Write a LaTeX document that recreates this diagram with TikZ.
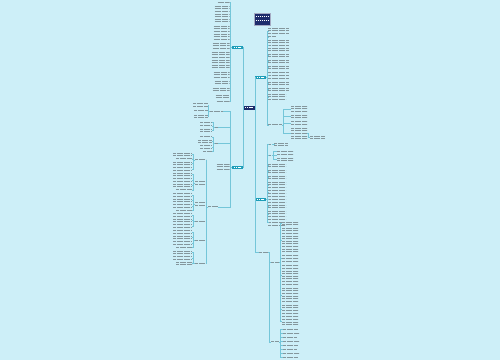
\documentclass[tikz,border=0pt]{standalone}
\usetikzlibrary{calc}
\definecolor{bg}{HTML}{CDEFF8}
\definecolor{lnk}{HTML}{74C6D9}
\definecolor{txtc}{HTML}{84969C}
\definecolor{tealn}{HTML}{1C9DB8}
\definecolor{navy}{HTML}{1D2C6C}
\tikzset{
 conn/.style={draw=lnk,line width=0.4pt},
 tblock/.style={inner sep=0pt,outer sep=0pt,
   path picture={\foreach \k in {0,...,13}{\draw[txtc,line width=0.65pt,dash pattern=on 1.4pt off 0.35pt]
     ($(path picture bounding box.north west)+(0.2pt,-1.2pt-\k*2.6pt)$) --
     ($(path picture bounding box.north east)+(0pt,-1.2pt-\k*2.6pt)$);}}},
 tealbox/.style={fill=tealn,inner sep=0pt,outer sep=0pt,minimum width=11pt,minimum height=3.6pt,
   path picture={\draw[white,line width=0.7pt,dash pattern=on 1.4pt off 0.35pt]
     ($(path picture bounding box.west)+(2pt,0pt)$) -- ($(path picture bounding box.east)+(-2pt,0pt)$);}},
 rootbox/.style={fill=navy,inner sep=0pt,outer sep=0pt,minimum width=12pt,minimum height=4pt,
   path picture={\draw[white,line width=0.8pt,dash pattern=on 1.4pt off 0.35pt]
     ($(path picture bounding box.west)+(2pt,0pt)$) -- ($(path picture bounding box.east)+(-2pt,0pt)$);}},
 titlebox/.style={fill=navy,draw=white!60!navy,line width=0.3pt,inner sep=0pt,minimum width=16pt,minimum height=12pt,
   path picture={\foreach \k in {0,1}{\draw[white,line width=1pt,dash pattern=on 1.6pt off 0.4pt]
     ($(path picture bounding box.north west)+(1.5pt,-3.5pt-\k*4pt)$) -- ($(path picture bounding box.north east)+(-1.5pt,-3.5pt-\k*4pt)$);}}}
}
\newcommand\TL[5]{\node[tblock,anchor=north east,minimum width=#4pt,minimum height={#5*2.6pt}] (#1) at (#2,#3) {};}
\newcommand\TR[5]{\node[tblock,anchor=north west,minimum width=#4pt,minimum height={#5*2.6pt}] (#1) at (#2,#3) {};}
\newcommand\LK[2]{\draw[conn] (#1.west) -- ++(-1.5,0) |- (#2.east);}
\newcommand\RK[2]{\draw[conn] (#1.east) -- ++(1.5,0) |- (#2.west);}
\begin{document}
\begin{tikzpicture}[x=1pt,y=-1pt]
\path[use as bounding box] (0,0) rectangle (500,360);
\fill[bg] (0,0) rectangle (500,360);

% central nodes
\node[rootbox] (root) at (249,107.5) {};
\node[titlebox] (title) at (262,19) {};
\node[tealbox] (L1) at (237.5,47.5) {};
\node[tealbox] (L2) at (237.5,167.5) {};
\node[tealbox] (R1) at (260.5,77.5) {};
\node[tealbox] (R2) at (260.5,199.5) {};
\TR{R3}{259}{251}{9}{1}

\draw[conn] (root.west) -- ++(-0.3,0) |- (L1.east);
\draw[conn] (root.west) -- ++(-0.3,0) |- (L2.east);
\draw[conn] (root.east) -- ++(0.5,0) |- (R1.west);
\draw[conn] (root.east) -- ++(0.5,0) |- (R2.west);
\draw[conn] (root.east) -- ++(0.5,0) |- (R3.west);

% L1 children
\foreach \n/\y/\w/\k in {a1/1/12/1, a2/5/15/7, a3/25/16/6, a4/42/17/3, a5/51/18/7, a6/71/16/3, a7/80/15/2, a8/87/17/2, a9/94/14/2, a10/100/13/1}
 {\TL{\n}{229.5}{\y}{\w}{\k} \LK{L1}{\n}}

% R1 children
\foreach \n/\y/\w/\k in {b1/27/21/3, b2/35.5/8/1, b3/39/21/5, b4/53/21/2, b5/59/21/2, b6/65/21/2, b7/71.5/21/3, b8/81/21/2, b9/87/21/2, b10/93/18/3}
 {\TR{\n}{268}{\y}{\w}{\k} \RK{R1}{\n}}
\TR{b11}{268}{123.5}{14}{1} \RK{R1}{b11}
\foreach \n/\y/\w/\k in {g1/105/16/3, g2/114/16/2, g3/120.5/16/2, g4/127/16/5}
 {\TR{\n}{291}{\y}{\w}{\k} \RK{b11}{\n}}
\TR{h1}{310}{135}{15}{2} \RK{g4}{h1}

% R2 children
\TR{c1}{268}{143}{4}{1} \RK{R2}{c1}
\TR{c1a}{274}{142}{14}{2} \RK{c1}{c1a}
\TR{c2}{268}{154}{4}{1} \RK{R2}{c2}
\foreach \n/\y/\w/\k in {c2a/150/16/1, c2b/153.5/16/1, c2c/157/16/2}
 {\TR{\n}{277}{\y}{\w}{\k} \RK{c2}{\n}}
\foreach \n/\y/\w/\k in {c3/163/18/2, c4/169/18/2, c5/175/18/2, c6/181/18/3, c7/189.5/18/2, c8/195.5/18/3, c9/204/18/2, c10/210/18/3, c11/218.5/18/3}
 {\TR{\n}{268}{\y}{\w}{\k} \RK{R2}{\n}}

% R3 children
\TR{e1}{271}{261}{8}{1} \RK{R3}{e1}
\foreach \n/\y/\w/\k in {e1a/221/16/2, e1b/227/16/10, e1c/254.5/16/3, e1d/264.5/16/8, e1e/287/16/6, e1f/304/16/4, e1g/315.5/16/4}
 {\TR{\n}{282}{\y}{\w}{\k} \RK{e1}{\n}}
\TR{e2}{271}{340.5}{8}{1} \RK{R3}{e2}
\foreach \n/\y/\w in {e2a/328/15, e2b/332/16, e2c/336/14, e2d/340/16, e2e/344/15, e2f/348/14, e2g/352/16, e2h/356/15}
 {\TR{\n}{283}{\y}{\w}{1} \RK{e2}{\n}}

% L2 children
\TL{C1}{223}{110}{13}{1} \LK{L2}{C1}
\foreach \n/\y/\w/\k in {C1a/102.5/15/2, C1b/109.5/14/1, C1c/114/14/2}
 {\TL{\n}{208}{\y}{\w}{\k} \LK{C1}{\n}}
\TL{C2}{218}{126}{3}{1} \LK{L2}{C2}
\foreach \n/\y/\w/\k in {C2a/121/12/1, C2b/124.5/12/1, C2c/128/12/2}
 {\TL{\n}{212}{\y}{\w}{\k} \LK{C2}{\n}}
\TL{C3}{218}{142}{3}{1} \LK{L2}{C3}
\foreach \n/\y/\w/\k in {C3a/135.5/12/1, C3b/139/14/2, C3c/144.5/12/2, C3d/150/9/1}
 {\TL{\n}{212}{\y}{\w}{\k} \LK{C3}{\n}}
\TL{f0}{229.5}{163}{13}{3} \LK{L2}{f0}
\TL{f5}{218}{205.5}{10}{1} \LK{L2}{f5}

% f5 sub-labels
\foreach \n/\y/\k in {s1/158.5/1, s2/180.5/2, s3/201.5/2, s4/220/1, s5/239/1, s6/262/1}
 {\TL{\n}{206}{\y}{11}{\k} \LK{f5}{\n}}
\foreach \n/\y/\w/\k in {t1/152/19/2, t2/157.5/16/1, t3/161/19/2, t4/166.5/19/2}
 {\TL{\n}{192}{\y}{\w}{\k} \LK{s1}{\n}}
\foreach \n/\y/\w/\k in {t5/172/19/2, t6/177.5/19/2, t7/183/19/2, t8/188.5/16/1}
 {\TL{\n}{192}{\y}{\w}{\k} \LK{s2}{\n}}
\foreach \n/\y/\w/\k in {t9/192.5/19/2, t10/198/19/2, t11/203.5/19/2, t12/209/16/1}
 {\TL{\n}{192}{\y}{\w}{\k} \LK{s3}{\n}}
\foreach \n/\y/\w/\k in {t13/212.5/19/2, t14/218/19/2, t15/223.5/19/2}
 {\TL{\n}{192}{\y}{\w}{\k} \LK{s4}{\n}}
\foreach \n/\y/\w/\k in {t16/229.5/19/2, t17/235/19/2, t18/240.5/19/2, t19/246/16/1}
 {\TL{\n}{192}{\y}{\w}{\k} \LK{s5}{\n}}
\foreach \n/\y/\w/\k in {t20/250/19/2, t21/255.5/19/2, t22/261/16/2}
 {\TL{\n}{192}{\y}{\w}{\k} \LK{s6}{\n}}
\end{tikzpicture}
\end{document}
